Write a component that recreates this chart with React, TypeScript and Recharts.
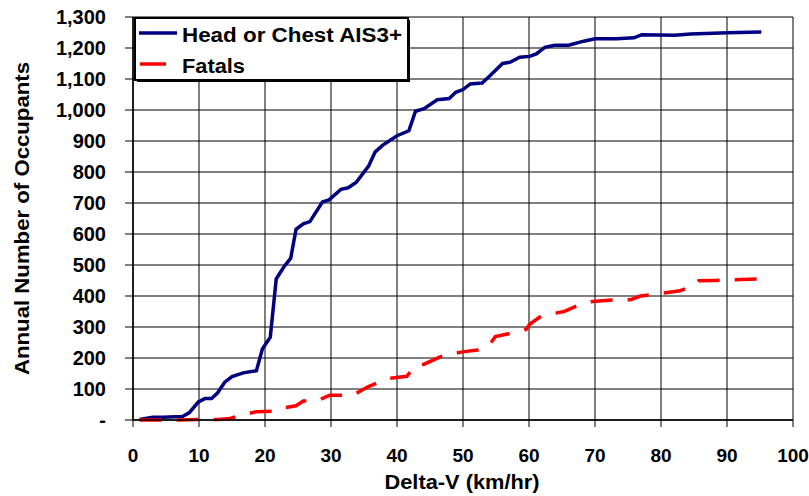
import React from "react";
import {
  LineChart,
  Line,
  XAxis,
  YAxis,
  CartesianGrid,
  Label,
} from "recharts";

// Delta-V (km/hr) vs cumulative annual occupants
const headX = [1, 3, 4.5, 7.5, 8.5, 9.9, 10.9, 11.9, 12.8, 13.9, 15, 16.7, 18.7, 19.6, 20.8, 21.7, 22.8, 23.9, 24.7, 25.8, 26.8, 28.7, 29.7, 31.5, 32.6, 33.8, 35.7, 36.7, 37.8, 40, 41.8, 42.8, 44.1, 46.1, 47.9, 48.9, 50, 51.1, 52.9, 54, 56, 57.1, 58.6, 60.1, 61.1, 62.4, 63.9, 66, 68.3, 70, 73.3, 75.9, 77.1, 82, 84.5, 90.1, 95.2];
const headY = [2, 9, 9, 11, 23, 58, 69, 69, 87, 122, 140, 152, 159, 229, 267, 455, 492, 522, 615, 633, 640, 703, 710, 744, 749, 766, 819, 865, 886, 917, 933, 996, 1004, 1033, 1037, 1057, 1066, 1084, 1087, 1109, 1150, 1154, 1170, 1173, 1181, 1202, 1209, 1209, 1222, 1230, 1230, 1233, 1243, 1241, 1245, 1249, 1252];

const fatalX = [1, 4.6, 7.1, 9.6, 12.9, 14.7, 16.5, 18.7, 21.8, 22.5, 24.7, 25.8, 27.8, 29.8, 33.3, 35.6, 38.6, 41.5, 42.7, 44.1, 46.7, 49.7, 52.2, 53.8, 54.9, 57.3, 59.6, 60.1, 61.9, 65.3, 67.6, 69.6, 73.4, 75.4, 76.9, 79.4, 82.9, 84.9, 85.7, 88, 90.5, 95];
const fatalY = [0, 0, 0, 2, 2, 5, 16, 27, 29, 38, 46, 61, 61, 80, 80, 107, 134, 141, 174, 180, 205, 219, 226, 237, 269, 280, 293, 309, 336, 350, 371, 382, 388, 388, 400, 407, 417, 433, 449, 450, 452, 455];

const xTicks = [0, 10, 20, 30, 40, 50, 60, 70, 80, 90, 100];
const yTicks = [0, 100, 200, 300, 400, 500, 600, 700, 800, 900, 1000, 1100, 1200, 1300];

const headData = headX.map((x, i) => ({ x, y: headY[i] }));
const fatalData = fatalX.map((x, i) => ({ x, y: fatalY[i] }));

const FONT = "'Liberation Sans', Arial, sans-serif";

const fmtY = (v: number) => (v === 0 ? "-" : v.toLocaleString("en-US"));

// the original text is a bit wider than Liberation Sans, so stretch it
const XTitle = (props: any) => {
  const vb = props.viewBox || {};
  const cx = vb.x + vb.width / 2 - 1;
  return (
    <text
      x={cx}
      y={vb.y + vb.height - 7}
      textAnchor="middle"
      textLength={155}
      lengthAdjust="spacingAndGlyphs"
      fill="#000"
      fontSize={20}
      fontWeight="bold"
      fontFamily={FONT}
    >
      Delta-V (km/hr)
    </text>
  );
};

const YTitle = (props: any) => {
  const vb = props.viewBox || {};
  const cy = vb.y + vb.height / 2;
  const cx = 21;
  return (
    <text
      x={cx}
      y={cy}
      transform={`rotate(-90 ${cx} ${cy})`}
      textAnchor="middle"
      dominantBaseline="central"
      textLength={313}
      lengthAdjust="spacingAndGlyphs"
      fill="#000"
      fontSize={21}
      fontWeight="bold"
      fontFamily={FONT}
    >
      Annual Number of Occupants
    </text>
  );
};

const ChartLegend = () => (
  <svg
    width={280}
    height={70}
    style={{ position: "absolute", left: 133, top: 16 }}
    fontFamily={FONT}
    fontWeight="bold"
  >
    <rect x={4} y={4} width={273} height={62} fill="#000" />
    <rect x={2} y={2} width={273} height={62} fill="#fff" stroke="#000" strokeWidth={2} />
    <line x1={6} x2={44} y1={17} y2={17} stroke="#000080" strokeWidth={3.5} />
    <line x1={7} x2={33} y1={48} y2={48} stroke="#ff0000" strokeWidth={3.5} />
    <text x={49} y={26} fontSize={20} textLength={220} lengthAdjust="spacingAndGlyphs" fill="#000">
      Head or Chest AIS3+
    </text>
    <text x={49} y={57} fontSize={20} textLength={63} lengthAdjust="spacingAndGlyphs" fill="#000">
      Fatals
    </text>
  </svg>
);

export default function App() {
  return (
    <div style={{ position: "absolute", left: 0, top: 0, width: 809, height: 496, background: "#fff" }}>
      <LineChart
        width={809}
        height={496}
        margin={{ top: 17, right: 16, bottom: 0, left: 0 }}
        style={{ fontFamily: FONT }}
      >
        <CartesianGrid stroke="#000" strokeWidth={1} />
        <XAxis
          type="number"
          dataKey="x"
          domain={[0, 100]}
          ticks={xTicks}
          height={76}
          tickSize={7}
          tickMargin={22}
          stroke="#000"
          tick={{ fill: "#000", fontSize: 19, fontWeight: "bold" }}
          axisLine={{ stroke: "#000", strokeWidth: 1.5 }}
          tickLine={{ stroke: "#000" }}
        >
          <Label content={XTitle} />
        </XAxis>
        <YAxis
          type="number"
          domain={[0, 1300]}
          ticks={yTicks}
          width={133}
          tickSize={8}
          tickMargin={19}
          tickFormatter={fmtY}
          stroke="#000"
          tick={{ fill: "#000", fontSize: 20, fontWeight: "bold" }}
          axisLine={{ stroke: "#000", strokeWidth: 1.5 }}
          tickLine={{ stroke: "#000" }}
        >
          <Label content={YTitle} />
        </YAxis>
        <Line
          data={headData}
          dataKey="y"
          type="linear"
          stroke="#000080"
          strokeWidth={3.5}
          dot={false}
          isAnimationActive={false}
        />
        <Line
          data={fatalData}
          dataKey="y"
          type="linear"
          stroke="#ff0000"
          strokeWidth={3.5}
          strokeDasharray="22 15"
          dot={false}
          isAnimationActive={false}
        />
      </LineChart>
      <ChartLegend />
    </div>
  );
}
